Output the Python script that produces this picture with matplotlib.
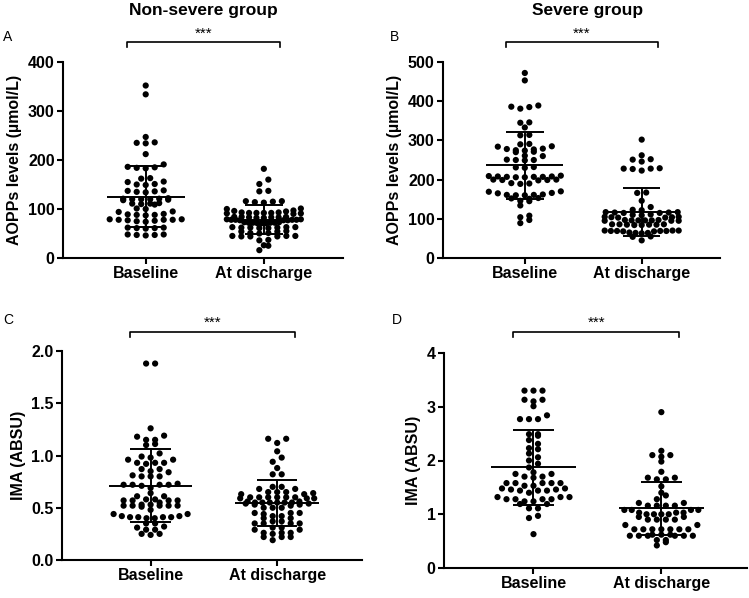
import matplotlib.pyplot as plt
import numpy as np

plt.rcParams['font.family'] = ['Liberation Sans', 'DejaVu Sans']

# categories
cats = ['Baseline', 'At discharge']

# values
A_base = [352, 334, 247, 236, 234, 235, 212, 191, 186, 184, 185, 183, 162, 163, 156, 155,
          151, 150, 149, 138, 137, 135, 134, 136, 121, 120, 119, 122, 120, 118, 121, 120,
          111, 110, 112, 111, 109, 101, 100, 94, 95, 89, 88, 87, 88, 90, 79, 78, 77, 78,
          79, 78, 75, 74, 76, 62, 61, 60, 62, 61, 47, 48, 46, 47, 48]
A_dis = [182, 160, 151, 137, 136, 116, 114, 115, 113, 116, 100, 101, 96, 95, 97,
         92, 91, 93, 92, 90, 92, 91, 93, 92, 84, 83, 82, 84, 83, 82, 83, 84,
         78, 77, 79, 78, 77, 79, 78, 77, 78, 72, 71, 73, 72, 71, 73, 72, 71, 72,
         62, 63, 61, 62, 63, 61, 62, 63, 54, 55, 54, 51, 50, 51, 44, 45, 44, 45, 44, 45,
         37, 36, 25, 26, 16]

B_base = [472, 453, 389, 386, 385, 381, 345, 346, 333, 314, 313, 291, 290, 284, 285,
          278, 279, 277, 275, 274, 270, 271, 260, 261, 250, 251, 249, 250, 231, 232, 230,
          210, 209, 207, 208, 206, 207, 208, 207, 206, 199, 200, 198, 199, 200, 190, 191, 189,
          169, 170, 165, 166, 161, 160, 162, 161, 160, 152, 151, 153, 146, 145, 134,
          108, 104, 97, 89]
B_dis = [302, 262, 252, 251, 246, 228, 229, 227, 228, 223, 167, 166, 146, 130, 123, 122,
         116, 115, 117, 116, 115, 117, 110, 111, 109, 104, 105, 103, 104, 105, 103,
         96, 95, 97, 96, 95, 97, 96, 95, 96, 85, 86, 84, 85, 86, 84, 85, 86,
         69, 70, 68, 69, 70, 68, 69, 70, 69, 64, 65, 63, 64, 55, 54, 45]

C_base = [1.88, 1.88, 1.26, 1.19, 1.18, 1.15, 1.15, 1.10, 1.11, 1.02, 0.99, 0.98, 0.96, 0.96,
          0.93, 0.93, 0.92, 0.93, 0.87, 0.87, 0.84, 0.85, 0.80, 0.80, 0.81, 0.80,
          0.72, 0.72, 0.73, 0.72, 0.71, 0.72, 0.69, 0.64, 0.61, 0.61, 0.57, 0.58, 0.57,
          0.57, 0.58, 0.57, 0.55, 0.52, 0.52, 0.53, 0.52, 0.51, 0.52, 0.53, 0.52, 0.48,
          0.44, 0.44, 0.41, 0.41, 0.42, 0.41, 0.41, 0.42, 0.40, 0.40, 0.35, 0.35,
          0.31, 0.32, 0.29, 0.29, 0.25, 0.25, 0.24]
C_dis = [1.16, 1.16, 1.12, 1.04, 0.98, 0.94, 0.88, 0.82, 0.82, 0.70, 0.70, 0.68, 0.68,
         0.65, 0.65, 0.64, 0.65, 0.63, 0.63, 0.60, 0.60, 0.59, 0.60, 0.60, 0.59, 0.60,
         0.60, 0.59, 0.55, 0.55, 0.56, 0.55, 0.54, 0.55, 0.56, 0.55, 0.54, 0.55,
         0.53, 0.52, 0.53, 0.50, 0.50, 0.50, 0.45, 0.45, 0.45, 0.44, 0.42, 0.42,
         0.40, 0.40, 0.37, 0.37, 0.35, 0.35, 0.35, 0.35, 0.31, 0.31, 0.29, 0.29,
         0.26, 0.26, 0.26, 0.25, 0.22, 0.22, 0.22, 0.19]

D_base = [3.30, 3.30, 3.30, 3.13, 3.13, 3.10, 3.01, 2.84, 2.77, 2.77, 2.77, 2.49, 2.49,
          2.46, 2.38, 2.31, 2.23, 2.21, 2.13, 2.06, 2.00, 1.94, 1.87, 1.78, 1.75, 1.75,
          1.70, 1.70, 1.68, 1.58, 1.58, 1.58, 1.58, 1.58, 1.53, 1.53, 1.48, 1.48,
          1.46, 1.46, 1.44, 1.44, 1.44, 1.40, 1.32, 1.32, 1.32, 1.28, 1.28, 1.28, 1.28,
          1.24, 1.24, 1.19, 1.19, 1.11, 1.11, 0.97, 0.93, 0.63]
D_dis = [2.90, 2.18, 2.10, 2.10, 2.07, 1.98, 1.79, 1.68, 1.68, 1.65, 1.65, 1.52, 1.40,
         1.35, 1.28, 1.21, 1.21, 1.16, 1.16, 1.16, 1.16, 1.08, 1.08, 1.08, 1.08,
         1.03, 1.03, 1.03, 1.00, 1.00, 1.00, 1.00, 0.95, 0.95, 0.90, 0.90, 0.90, 0.90,
         0.80, 0.80, 0.72, 0.72, 0.72, 0.72, 0.72, 0.72, 0.72, 0.62, 0.62, 0.62,
         0.60, 0.60, 0.60, 0.60, 0.60, 0.60, 0.52, 0.52, 0.48, 0.42]

# mean and SD
A_mean = [125, 78];   A_sd = [62, 30]
B_mean = [236, 117];  B_sd = [86, 62]
C_mean = [0.71, 0.55]; C_sd = [0.35, 0.22]
D_mean = [1.87, 1.11]; D_sd = [0.69, 0.49]

W, H = 749, 598
fig = plt.figure(figsize=(W / 100, H / 100), dpi=100)


def make_ax(x0, ybot, x1, ytop):
    return fig.add_axes([x0 / W, 1 - ybot / H, (x1 - x0) / W, (ybot - ytop) / H])


def rows_scatter(ax, xc, vals, h=4.5, gap=9.0, maxw=74.0):
    # prism-like layout: group close values into rows, spread each row from the centre out
    tr = ax.transData
    ppu = tr.transform((1, 0))[0] - tr.transform((0, 0))[0]
    vals = np.asarray(vals, dtype=float)
    ypx = np.array([tr.transform((0, v))[1] for v in vals])
    order = np.argsort(ypx)
    groups = []
    for i in order:
        if groups and ypx[i] - ypx[groups[-1][0]] <= h:
            groups[-1].append(i)
        else:
            groups.append([i])
    xs = np.full(len(vals), float(xc))
    for g in groups:
        idx = np.array(g)
        n = len(idx)
        s = gap if n < 2 else min(gap, maxw / (n - 1))
        pos = (np.arange(n) - (n - 1) / 2) * s
        pos = pos[np.argsort(np.abs(pos), kind='stable')]
        xs[idx] = xc + pos / ppu
    ax.scatter(xs, vals, s=20, color='black', edgecolors='none', zorder=3, clip_on=False)


def panel(ax, data, means, sds, ymax, ticks, fmt, ylabel, letter, lx, ly, by):
    ax.set_xlim(-0.7, 1.67)
    ax.set_ylim(0, ymax)
    for sp in ['top', 'right']:
        ax.spines[sp].set_visible(False)
    for sp in ['left', 'bottom']:
        ax.spines[sp].set_linewidth(1.5)
    ax.set_yticks(ticks)
    ax.set_yticklabels([fmt.format(t) for t in ticks], fontsize=11.5, fontweight='bold')
    ax.set_xticks([0, 1])
    ax.set_xticklabels(cats, fontsize=11.5, fontweight='bold')
    ax.tick_params(direction='out', width=1.5, length=4, pad=2)
    ax.set_ylabel(ylabel, fontsize=11.5, fontweight='bold', labelpad=4)
    for i, vals in enumerate(data):
        rows_scatter(ax, i, vals)
        m, s = means[i], sds[i]
        ax.hlines(m, i - 0.33, i + 0.33, color='black', lw=1.4, zorder=4)
        ax.vlines(i, m - s, m + s, color='black', lw=1.4, zorder=4)
        ax.hlines([m - s, m + s], i - 0.16, i + 0.16, color='black', lw=1.4, zorder=4)
    # significance bracket
    tb = ax.get_xaxis_transform()
    ax.plot([-0.16, -0.16, 1.14, 1.14], [by - 0.025, by, by, by - 0.025], color='black',
            lw=1.2, transform=tb, clip_on=False)
    ax.text(0.49, by + 0.01, '***', transform=tb, ha='center', va='bottom', fontsize=11)
    fig.text(lx / W, 1 - ly / H, letter, fontsize=10, ha='left', va='center')


axA = make_ax(63, 258, 343, 62)
panel(axA, [A_base, A_dis], A_mean, A_sd, 400, [0, 100, 200, 300, 400], '{:.0f}',
      'AOPPs levels (\u00b5mol/L)', 'A', 3, 37, 1.10)
axB = make_ax(443, 258, 720, 62)
panel(axB, [B_base, B_dis], B_mean, B_sd, 500, [0, 100, 200, 300, 400, 500], '{:.0f}',
      'AOPPs levels (\u00b5mol/L)', 'B', 390, 37, 1.10)
axC = make_ax(62, 560, 362, 351)
panel(axC, [C_base, C_dis], C_mean, C_sd, 2.0, [0.0, 0.5, 1.0, 1.5, 2.0], '{:.1f}',
      'IMA (ABSU)', 'C', 3, 320, 1.09)
axD = make_ax(444, 568, 747, 353)
panel(axD, [D_base, D_dis], D_mean, D_sd, 4, [0, 1, 2, 3, 4], '{:.0f}',
      'IMA (ABSU)', 'D', 392, 320, 1.10)

fig.text(203 / W, 1 - 10 / H, 'Non-severe group', fontsize=12.5, fontweight='bold',
         ha='center', va='center')
fig.text(588 / W, 1 - 10 / H, 'Severe group', fontsize=12.5, fontweight='bold',
         ha='center', va='center')

fig.savefig('out.png', dpi=100)
